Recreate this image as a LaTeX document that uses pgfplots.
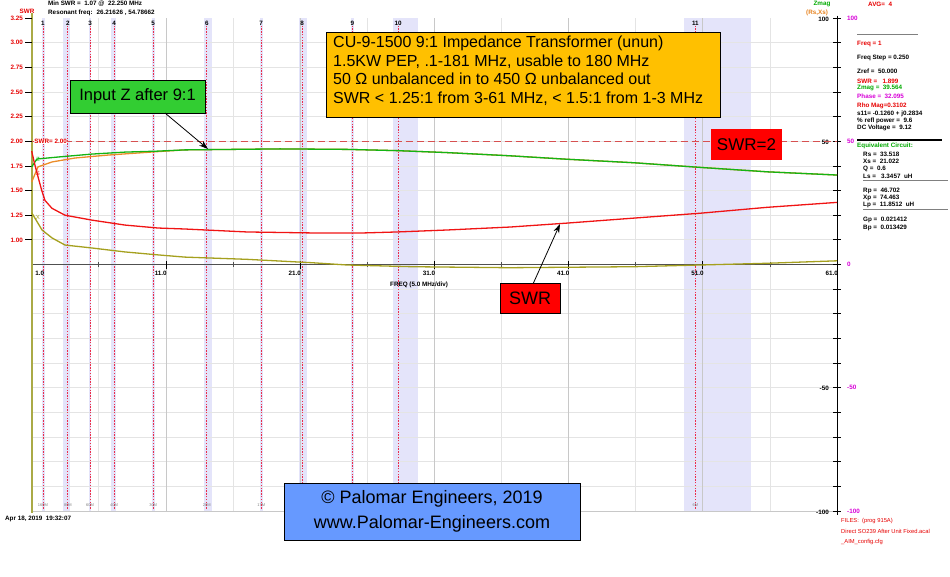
\documentclass[border=0pt]{standalone}
\usepackage{fontspec}
\setmainfont{Liberation Sans}
\usepackage{pgfplots}
\usepackage{pgfplotstable}
\pgfplotsset{compat=1.18}
\usetikzlibrary{arrows.meta}

\definecolor{swrred}{RGB}{240,20,20}
\definecolor{zgreen}{RGB}{20,180,20}
\definecolor{rsorange}{RGB}{235,140,40}
\definecolor{xsolive}{RGB}{165,160,30}
\definecolor{band}{RGB}{228,228,250}
\definecolor{gridlight}{RGB}{228,228,228}
\definecolor{griddark}{RGB}{200,200,200}
\definecolor{axisgray}{RGB}{80,80,80}
\definecolor{markred}{RGB}{235,45,75}
\definecolor{dashred}{RGB}{215,80,80}
\definecolor{leftaxis}{RGB}{170,170,70}
\definecolor{boxyellow}{RGB}{255,192,0}
\definecolor{boxgreen}{RGB}{50,205,50}
\definecolor{boxred}{RGB}{255,0,0}
\definecolor{boxblue}{RGB}{102,153,255}
\definecolor{txtred}{RGB}{230,0,0}
\definecolor{txtgreen}{RGB}{0,170,0}
\definecolor{txtmag}{RGB}{215,0,215}
\definecolor{txtorange}{RGB}{230,130,30}

% SWR, read on the left scale
\pgfplotstableread{
f swr
1.00 1.90
1.20 1.78
1.47 1.64
1.75 1.50
1.99 1.40
2.51 1.32
3.48 1.25
5.49 1.20
7.95 1.15
10.41 1.12
12.42 1.11
17.04 1.08
21.96 1.07
25.69 1.07
28.22 1.08
31.95 1.10
36.64 1.13
40.89 1.17
45.81 1.22
50.80 1.27
55.80 1.33
61.00 1.38
}\swrdata

% Zmag, ohms on the right scale
\pgfplotstableread{
f z
1.00 39.6
1.39 42.8
2.96 43.6
5.49 44.8
7.95 45.6
10.41 46.0
12.42 46.5
19.50 46.9
24.50 46.7
28.20 46.2
31.95 45.4
36.64 44.1
40.89 42.7
45.81 41.3
50.80 39.4
55.80 37.6
61.00 36.3
}\zdata

% Rs
\pgfplotstableread{
f rs
1.00 33.5
1.47 39.6
2.51 41.6
4.23 43.2
6.69 44.4
10.41 45.8
12.42 46.5
19.50 46.9
24.50 46.7
28.20 46.2
31.95 45.4
36.64 44.1
40.89 42.7
45.81 41.3
50.80 39.4
55.80 37.6
61.00 36.3
}\rsdata

% Xs
\pgfplotstableread{
f xs
1.00 21.0
1.77 14.0
2.51 10.8
3.48 7.9
5.49 6.7
7.95 5.1
10.41 3.9
12.42 3.0
17.04 2.1
21.96 0.7
24.50 -0.2
29.40 -0.9
36.60 -1.3
45.80 -0.9
50.80 -0.2
55.80 0.5
61.00 1.5
}\xsdata

\newcommand\sm{\fontsize{6.3}{7.5}\selectfont\bfseries}
\newcommand\tn{\fontsize{4}{5}\selectfont}

\begin{document}
\begin{tikzpicture}
\path[use as bounding box] (0,0) rectangle (950pt,-576pt);
\begin{axis}[at={(31.7pt,-511pt)}, anchor=south west, scale only axis,
  width=805.3pt, height=493pt, xmin=1, xmax=61, ymin=-100, ymax=100,
  hide axis, clip=false]
% ham bands
\addplot[fill=band, draw=none] coordinates {(1.74,-100) (1.99,-100) (1.99,100) (1.74,100)};
\addplot[fill=band, draw=none] coordinates {(3.35,-100) (3.85,-100) (3.85,100) (3.35,100)};
\addplot[fill=band, draw=none] coordinates {(5.30,-100) (5.42,-100) (5.42,100) (5.30,100)};
\addplot[fill=band, draw=none] coordinates {(6.90,-100) (7.30,-100) (7.30,100) (6.90,100)};
\addplot[fill=band, draw=none] coordinates {(10.00,-100) (10.20,-100) (10.20,100) (10.00,100)};
\addplot[fill=band, draw=none] coordinates {(13.85,-100) (14.40,-100) (14.40,100) (13.85,100)};
\addplot[fill=band, draw=none] coordinates {(18.00,-100) (18.20,-100) (18.20,100) (18.00,100)};
\addplot[fill=band, draw=none] coordinates {(20.90,-100) (21.50,-100) (21.50,100) (20.90,100)};
\addplot[fill=band, draw=none] coordinates {(24.80,-100) (25.05,-100) (25.05,100) (24.80,100)};
\addplot[fill=band, draw=none] coordinates {(27.90,-100) (29.80,-100) (29.80,100) (27.90,100)};
\addplot[fill=band, draw=none] coordinates {(49.60,-100) (54.60,-100) (54.60,100) (49.60,100)};

% grid
\pgfplotsinvokeforeach{-90,-80,...,90}{\draw[gridlight, line width=0.8pt] (axis cs:1,#1) -- (axis cs:61,#1);}
\pgfplotsinvokeforeach{6,16,...,56}{\draw[gridlight, line width=0.8pt] (axis cs:#1,-100) -- (axis cs:#1,100);}
\pgfplotsinvokeforeach{11,21,...,51}{\draw[griddark, line width=0.8pt] (axis cs:#1,-100) -- (axis cs:#1,100);}
\draw[griddark, line width=1pt] (axis cs:1,-100) -- (axis cs:61,-100);

% band marker lines
\pgfplotsinvokeforeach{1.84,3.70,5.35,7.14,10.05,14.05,18.10,21.15,24.90,28.30,50.45}{
  \draw[markred, dash pattern=on 1.4pt off 1.4pt, line width=0.9pt] (axis cs:#1,-99) -- (axis cs:#1,97);}
\foreach \f/\n/\l in {1.84/1/160M,3.70/2/80M,5.35/3/60M,7.14/4/40M,10.05/5/30M,14.05/6/20M,18.10/7/17M,21.15/8/15M,24.90/9/12M,28.30/10/10M,50.45/11/6M}{
  \edef\tmp{\noexpand\node[font=\noexpand\sm, inner sep=0] at (axis cs:\f,98) {\n};
    \noexpand\node[font=\noexpand\tn, text=gray, inner sep=0] at (axis cs:\f,-97.5) {\l};}
  \tmp}

% frequency axis at zero
\draw[axisgray, line width=1.6pt] (axis cs:1,0) -- (axis cs:61,0);
\pgfplotsinvokeforeach{11,21,...,61}{\draw[black, line width=0.8pt] (axis cs:#1,0) ++(0pt,-4pt) -- ++(0pt,8pt);}
\pgfplotsinvokeforeach{6,16,...,56}{\draw[axisgray, line width=0.8pt] (axis cs:#1,0) ++(0pt,-2.5pt) -- ++(0pt,5pt);}
\pgfplotsinvokeforeach{11,21,...,61}{\node[font=\sm, anchor=north east, inner sep=0] at (axis cs:#1,0) [yshift=-6pt, xshift=1pt] {#1.0};}
\node[font=\sm, anchor=north west, inner sep=0] at (axis cs:1,0) [yshift=-6pt, xshift=3.5pt] {1.0};

% right axis
\draw[black, line width=1pt] (axis cs:61,101) -- (axis cs:61,-101.5);
\pgfplotsinvokeforeach{-100,-90,...,100}{\draw[black, line width=0.8pt] (axis cs:61,#1) ++(-4pt,0pt) -- ++(8pt,0pt);}
\foreach \v in {100,50,-50,-100}{
  \edef\tmp{\noexpand\node[font=\noexpand\sm, anchor=east, inner sep=0] at (axis cs:61,\v) [xshift=-8pt, yshift=-1pt] {\v};}\tmp}
\foreach \v in {100,50,0,-50,-100}{
  \edef\tmp{\noexpand\node[font=\noexpand\sm, text=txtmag, anchor=west, inner sep=0] at (axis cs:61,\v) [xshift=10pt] {\v};}\tmp}

% left SWR axis
\draw[leftaxis, line width=1.6pt] (axis cs:1,102) -- (axis cs:1,-101);
\foreach \v/\t in {10/1.00,20/1.25,30/1.50,40/1.75,50/2.00,60/2.25,70/2.50,80/2.75,90/3.00,100/3.25}{
  \edef\tmp{\noexpand\draw[black, line width=0.8pt] (axis cs:1,\v) -- ++(-7pt,0pt)
    node[left, font=\noexpand\sm, text=txtred, inner sep=1.5pt] {\t};}\tmp}

% SWR = 2 reference
\draw[dashred, dash pattern=on 7pt off 4pt, line width=0.8pt] (axis cs:1,50) -- (axis cs:61,50);
\node[font=\sm, text=txtred, fill=white, anchor=west, inner sep=0.5pt] at (axis cs:1,50) [xshift=2pt] {SWR= 2.00};

% curves
\addplot[rsorange, line width=1.3pt] table[x=f, y=rs] {\rsdata};
\addplot[zgreen, line width=1.3pt] table[x=f, y=z] {\zdata};
\addplot[xsolive, line width=1.3pt] table[x=f, y=xs] {\xsdata};
\addplot[swrred, line width=1.3pt] table[x=f, y expr={(\thisrow{swr}-0.75)*40}] {\swrdata};
\end{axis}

\begin{scope}[x=1pt, y=-1pt]
% header
\node[font=\sm, anchor=west, inner sep=0] at (48,4) {Min SWR = \ 1.07 @ \ 22.250 MHz};
\node[font=\sm, anchor=west, inner sep=0] at (48,13) {Resonant freq: \ 26.21626 , 54.78662};
\node[font=\sm, text=txtred, inner sep=0] at (27,11) {SWR};
\node[font=\sm, text=txtgreen, inner sep=0] at (822,4) {Zmag};
\node[font=\sm, text=txtorange, inner sep=0] at (817,13) {(Rs,Xs)};
\node[font=\sm, text=txtred, anchor=west, inner sep=0] at (868,4) {AVG= \ 4};
\node[font=\sm, anchor=west, inner sep=0] at (5,519) {Apr 18, 2019 \ 19:32:07};
\node[font=\sm, anchor=west, inner sep=0] at (390,285) {FREQ (5.0 MHz/div)};
\node[font=\fontsize{6}{7}\selectfont, text=zgreen, inner sep=0] at (38,159) {Z};
\node[font=\fontsize{6}{7}\selectfont, text=swrred, inner sep=0] at (38,173) {S};
\node[font=\fontsize{6}{7}\selectfont, text=xsolive, inner sep=0] at (38,217) {X};

% readout panel
\draw[gray, line width=1pt] (857,34) -- (918,34);
\node[font=\sm, text=txtred, anchor=west, inner sep=0] at (857,44) {Freq = 1};
\node[font=\sm, anchor=west, inner sep=0] at (857,58) {Freq Step = 0.250};
\node[font=\sm, anchor=west, inner sep=0] at (857,71) {Zref = \ 50.000};
\node[font=\sm, text=txtred, anchor=west, inner sep=0] at (857,81) {SWR = \ \ 1.899};
\node[font=\sm, text=txtgreen, anchor=west, inner sep=0] at (857,88) {Zmag = \ 39.564};
\node[font=\sm, text=txtmag, anchor=west, inner sep=0] at (857,96) {Phase = \ 32.095};
\node[font=\sm, text=txtred, anchor=west, inner sep=0] at (857,106) {Rho Mag=0.3102};
\node[font=\sm, anchor=west, inner sep=0] at (857,114) {s11= -0.1260 + j0.2834};
\node[font=\sm, anchor=west, inner sep=0] at (857,121) {\% refl power = \ 9.6};
\node[font=\sm, anchor=west, inner sep=0] at (857,128) {DC Voltage = \ 9.12};
\draw[black, line width=2pt] (857,140) -- (942,140);
\node[font=\sm, text=txtgreen, anchor=west, inner sep=0] at (857,146) {Equivalent Circuit:};
\node[font=\sm, anchor=west, inner sep=0] at (863,154) {Rs = \ 33.518};
\node[font=\sm, anchor=west, inner sep=0] at (863,161) {Xs = \ 21.022};
\node[font=\sm, anchor=west, inner sep=0] at (863,169) {Q = \ 0.6};
\node[font=\sm, anchor=west, inner sep=0] at (863,176) {Ls = \ \ 3.3457 \ uH};
\draw[gray, line width=0.8pt] (863,180) -- (948,180);
\node[font=\sm, anchor=west, inner sep=0] at (863,191) {Rp = \ 46.702};
\node[font=\sm, anchor=west, inner sep=0] at (863,198) {Xp = \ 74.463};
\node[font=\sm, anchor=west, inner sep=0] at (863,205) {Lp = \ 11.8512 \ uH};
\draw[gray, line width=0.8pt] (863,209.5) -- (948,209.5);
\node[font=\sm, anchor=west, inner sep=0] at (863,220) {Gp = \ 0.021412};
\node[font=\sm, anchor=west, inner sep=0] at (863,228) {Bp = \ 0.013429};
\node[font=\fontsize{5.8}{7}\selectfont, text=txtred, anchor=west, inner sep=0] at (841,521) {FILES: \ (prog 915A)};
\node[font=\fontsize{5.8}{7}\selectfont, text=txtred, anchor=west, inner sep=0] at (841,531) {Direct SO239 After Unit Fixed.acal};
\node[font=\fontsize{5.8}{7}\selectfont, text=txtred, anchor=west, inner sep=0] at (841,542) {\_AIM\_config.cfg};

% annotation boxes
\draw[black, line width=0.9pt, fill=boxyellow] (326,32) rectangle (720,117);
\node[font=\fontsize{16}{18.5}\selectfont, anchor=north west, align=left, inner sep=0] at (333,36)
  {CU-9-1500 9:1 Impedance Transformer (unun)\\1.5KW PEP, .1-181 MHz, usable to 180 MHz\\50 Ω unbalanced in to 450 Ω unbalanced out\\SWR < 1.25:1 from 3-61 MHz, < 1.5:1 from 1-3 MHz};
\draw[black, line width=0.9pt, fill=boxgreen] (70,80) rectangle (205,113);
\node[font=\fontsize{16.5}{18}\selectfont, inner sep=0] at (137.5,96.5) {Input Z after 9:1};
\draw[black, line width=0.8pt, -{Stealth[length=9pt, width=6pt]}] (165,113) -- (208,149);
\fill[boxred] (711,129) rectangle (782,160);
\node[font=\fontsize{17}{19}\selectfont, inner sep=0] at (746.5,144.5) {SWR=2};
\draw[black, line width=0.8pt, -{Stealth[length=9pt, width=6pt]}] (533,284) -- (560,224);
\draw[black, line width=0.6pt, fill=boxred] (500,283) rectangle (560,313);
\node[font=\fontsize{18}{20}\selectfont, inner sep=0] at (530,298) {SWR};
\draw[black, line width=0.9pt, fill=boxblue] (284,483) rectangle (580,540);
\node[font=\fontsize{18}{25}\selectfont, align=center, inner sep=0] at (432,511.5)
  {© Palomar Engineers, 2019\\www.Palomar-Engineers.com};
\end{scope}
\end{tikzpicture}
\end{document}
